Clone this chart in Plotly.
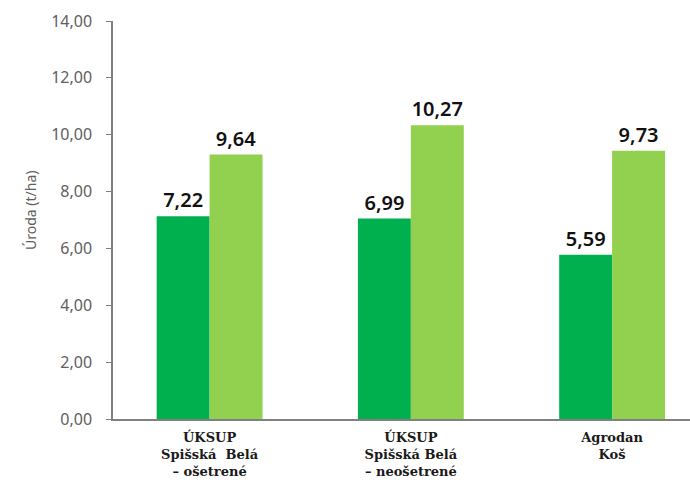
import plotly.graph_objects as go

categories = ["ÚKSUP<br>Spišská  Belá<br>– ošetrené",
              "ÚKSUP<br>Spišská Belá<br>– neošetrené",
              "Agrodan<br>Koš"]
series1_values = [7.13, 7.05, 5.78]
series2_values = [9.30, 10.33, 9.44]
series1_labels = ["7,22", "6,99", "5,59"]
series2_labels = ["9,64", "10,27", "9,73"]
y_ticks = [0, 2, 4, 6, 8, 10, 12, 14]

label_font = dict(family="Noto Sans", size=20, color="#111111", weight=600)

fig = go.Figure()
fig.add_trace(go.Bar(x=categories, y=series1_values, text=series1_labels,
                     textposition="outside", textfont=label_font,
                     marker=dict(color="#00B04F", line=dict(width=0)),
                     cliponaxis=False, showlegend=False))
fig.add_trace(go.Bar(x=categories, y=series2_values, text=series2_labels,
                     textposition="outside", textfont=label_font,
                     marker=dict(color="#92D050", line=dict(width=0)),
                     cliponaxis=False, showlegend=False))

fig.update_layout(
    width=690, height=480,
    margin=dict(l=113, r=0, t=21, b=61, autoexpand=False),
    paper_bgcolor="white", plot_bgcolor="white",
    barmode="group", bargap=0.474, bargroupgap=0,
    separators=", ",
    xaxis=dict(type="category", range=[-0.48, 2.387], automargin=False,
               showline=True, linecolor="#808080", linewidth=1.5,
               ticks="", showgrid=False, ticklabelstandoff=6,
               tickfont=dict(family="DejaVu Serif", size=13, color="#1a1a1a", weight="bold")),
    yaxis=dict(range=[0, 14], tickvals=y_ticks, tickformat=".2f", automargin=False,
               showline=True, linecolor="#808080", linewidth=1.5,
               ticks="outside", ticklen=5, tickcolor="#808080",
               showgrid=False, zeroline=False, ticklabelstandoff=11,
               tickfont=dict(family="Noto Sans", size=16, color="#606060")),
    annotations=[dict(text="Úroda (t/ha)", xref="paper", yref="paper",
                      x=-0.144, y=0.525, xanchor="center", yanchor="middle",
                      showarrow=False, textangle=-90,
                      font=dict(family="Noto Sans", size=14, color="#606060"))],
)

fig.write_html("out.html", config={"displayModeBar": False},
               post_script="document.body.style.margin='0';document.body.style.overflow='hidden';")
